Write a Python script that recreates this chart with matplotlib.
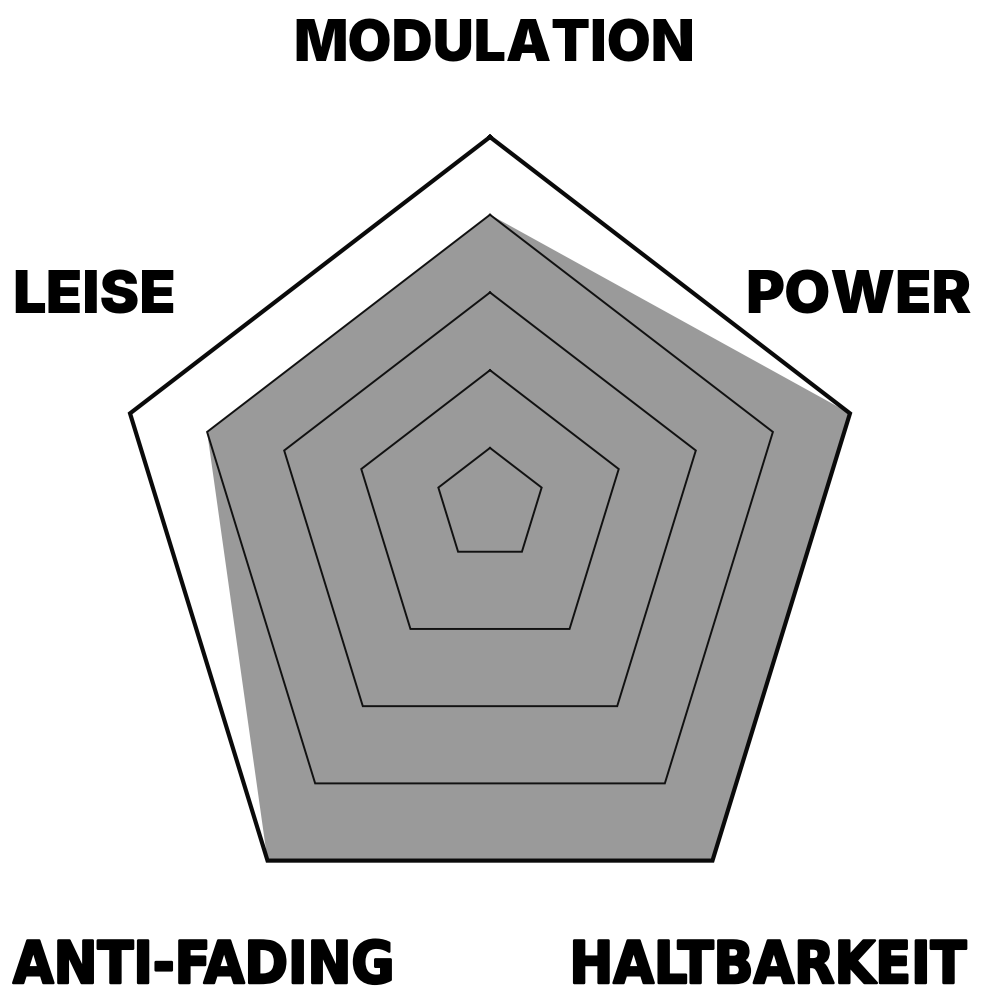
import numpy as np
import matplotlib
matplotlib.use('Agg')
import matplotlib.pyplot as plt
import matplotlib.patheffects as pe

# radar data (clockwise from the top)
categories = ['MODULATION', 'POWER', 'HALTBARKEIT', 'ANTI-FADING', 'LEISE']
values = [4, 5, 5, 5, 4]
levels = [1, 2, 3, 4, 5]

# layout, in pixels of the 982x1000 picture
W, H = 982, 1000
hub = np.array([490.0, 500.0])       # point the rings shrink towards
centre = np.array([490.0, 537.0])    # centre of the outer pentagon
sx, sy = 378.5, 400.0                # outer pentagon half-size (x, y)
r_min, r_max = 0.33, 5.0             # radial scale

angles = np.deg2rad(90 - 72 * np.arange(len(categories)))
outer = np.column_stack([centre[0] + sx * np.cos(angles),
                         centre[1] - sy * np.sin(angles)])


def radar_xy(vals):
    s = (np.asarray(vals, float) - r_min) / (r_max - r_min)
    pts = hub + s[:, None] * (outer - hub)
    return np.vstack([pts, pts[:1]])


fig = plt.figure(figsize=(W / 100, H / 100), dpi=100)
ax = fig.add_axes([0, 0, 1, 1])
ax.set_xlim(0, W)
ax.set_ylim(H, 0)
ax.axis('off')

data = radar_xy(values)
ax.fill(data[:, 0], data[:, 1], color='#9a9a9a', lw=0, zorder=1)

for lv in levels[:-1]:
    ring = radar_xy([lv] * len(categories))
    ax.plot(ring[:, 0], ring[:, 1], color='#111111', lw=1.4, zorder=2,
            solid_joinstyle='miter')
ring = radar_xy([levels[-1]] * len(categories))
ax.plot(ring[:, 0], ring[:, 1], color='#0a0a0a', lw=3.0, zorder=3,
        solid_joinstyle='miter')

# labels: (x, baseline y, ha, font, size)
heavy = dict(family='Inter', weight=900)
# no black condensed face installed, so thicken the bold condensed one a bit
narrow = dict(family='DejaVu Sans', weight='bold', stretch='condensed',
              path_effects=[pe.withStroke(linewidth=1.8, foreground='black')])
label_pos = {
    'MODULATION': (494, 62, 'center', heavy, 41),
    'POWER': (972, 313, 'right', heavy, 43),
    'HALTBARKEIT': (967, 983, 'right', narrow, 42),
    'ANTI-FADING': (13, 983, 'left', narrow, 42),
    'LEISE': (12, 313, 'left', heavy, 43),
}
for cat in categories:
    x, y, ha, font, size = label_pos[cat]
    ax.text(x, y, cat, ha=ha, va='baseline', color='black', fontsize=size, **font)

fig.savefig('out.png', dpi=100, facecolor='white')
